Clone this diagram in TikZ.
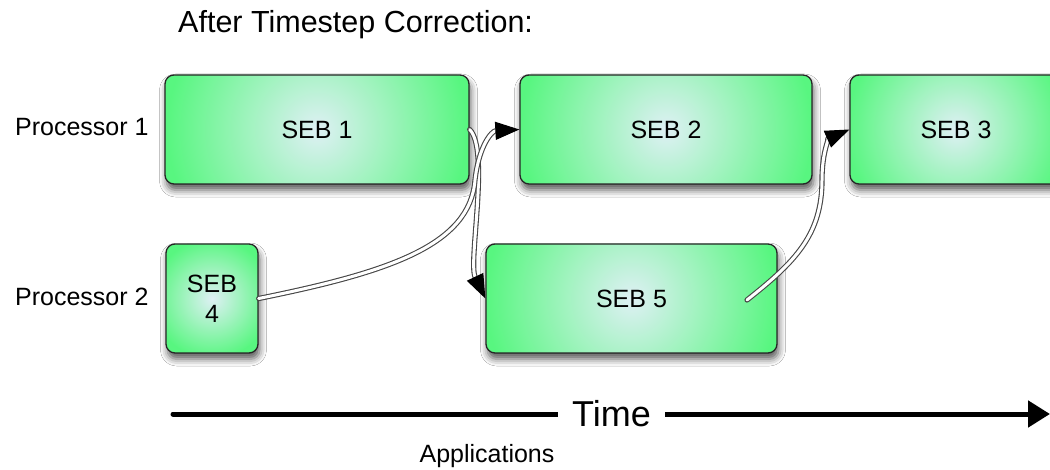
\documentclass[tikz,border=0pt]{standalone}
\usepackage{fontspec}
\setmainfont{Liberation Sans}
\usetikzlibrary{arrows.meta,shadows.blur}

\definecolor{sebgreen}{RGB}{88,246,128}
\definecolor{sebcore}{RGB}{222,240,244}
\definecolor{wire}{RGB}{70,70,70}

\tikzset{
  seb/.style={draw=black!85, line width=1.3pt, rounded corners=9pt,
    inner sep=0pt, minimum height=109pt, align=center,
    font=\fontsize{25}{30}\selectfont,
    blur shadow={shadow xshift=1.5pt, shadow yshift=-6pt,
      shadow blur radius=7pt, shadow opacity=65},
    path picture={
      \fill[sebgreen] (path picture bounding box.south west)
        rectangle (path picture bounding box.north east);
      \shade[inner color=sebcore, outer color=sebgreen]
        (path picture bounding box.center) circle (#1);}},
  proc/.style={anchor=base west, inner sep=0pt, font=\fontsize{25}{30}\selectfont},
  handoff/.style={draw=wire, line width=1.1pt, double=white,
    double distance=3pt, line cap=round,
    -{Triangle[length=24pt,width=18pt,color=black]}},
  timeline/.style={line width=5pt, line cap=round,
    -{Triangle[length=22pt,width=26pt]}},
}

\begin{document}
\begin{tikzpicture}[x=1pt,y=-1pt]
  \useasboundingbox (0,0) rectangle (1050,470);
  \fill[white] (0,0) rectangle (1050,470);

  % heading
  \node[anchor=base west, inner sep=0pt, font=\fontsize{30.5}{36}\selectfont]
    (title) at (178,33) {After Timestep Correction:};

  % processor rows
  \node[proc] (p1) at (15,136) {Processor 1};
  \node[proc] (p2) at (15,306) {Processor 2};

  % scheduled event blocks
  \node[seb=150pt, minimum width=304pt] (seb1) at (317,129.5) {SEB 1};
  \node[seb=146pt, minimum width=292pt] (seb2) at (666,129.5) {SEB 2};
  \node[seb=110pt, minimum width=212pt] (seb3) at (956,129.5) {SEB 3};
  \node[seb=60pt,  minimum width=92pt]  (seb4) at (212,298.5) {SEB\\4};
  \node[seb=146pt, minimum width=291pt] (seb5) at (631.5,298.5) {SEB 5};

  % dependencies between blocks
  \coordinate (s5tail) at (747,300);
  \draw[handoff] (seb1.east) .. controls (490,150) and (468,262) .. (seb5.west);
  \draw[handoff] (seb4.east) .. controls (390,272) and (470,245) .. (475,180)
                 .. controls (479,145) and (492,131) .. (seb2.west);
  \draw[handoff] (s5tail) .. controls (795,262) and (822,235) .. (822,180)
                 .. controls (822,150) and (830,138) .. (seb3.west);

  % time axis
  \coordinate (t0) at (173,414);
  \coordinate (t1) at (1050,414);
  \draw[timeline] (t0) -- node[pos=0.5, fill=white, inner xsep=14pt, inner ysep=2pt,
      font=\fontsize{36}{40}\selectfont] (timelbl) {Time} (t1);

  \node[inner sep=0pt, font=\fontsize{25}{30}\selectfont] (apps) at (487,456) {Applications};
\end{tikzpicture}
\end{document}
